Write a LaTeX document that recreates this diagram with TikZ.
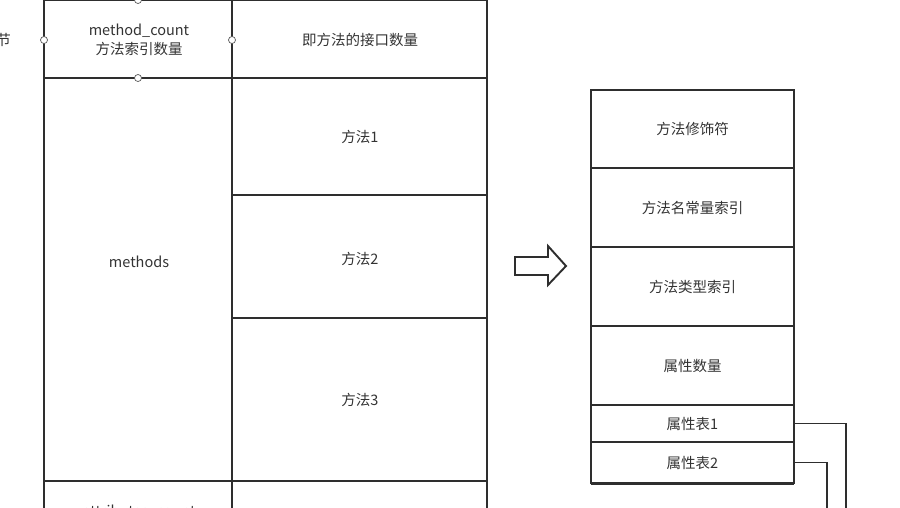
\documentclass[tikz,border=0pt]{standalone}
\usepackage{fontspec}
\setmainfont{Noto Sans CJK SC}
\definecolor{ln}{HTML}{2E2E2E}
\definecolor{tx}{HTML}{333333}
\tikzset{
  cell/.style={draw=ln, line width=1.9pt, rectangle, inner sep=0pt, outer sep=0pt, anchor=center},
  lbl/.style={text=tx, font=\fontsize{14.5}{19}\selectfont, align=center, inner sep=0pt},
  handle/.style={circle, draw=ln!80, fill=white, line width=0.7pt, minimum size=7pt, inner sep=0pt},
  conn/.style={draw=ln, line width=1.9pt},
  bigarrow/.style={draw=ln, line width=1.9pt, fill=white, line join=miter}
}
\begin{document}
\begin{tikzpicture}[x=1pt,y=-1pt]
\useasboundingbox (0,0) rectangle (900,507);
\clip (0,0) rectangle (900,507);
% partial text at left edge
\node[lbl, anchor=east] (cut) at (11,40) {节};
% left table
\node[cell, minimum width=188pt, minimum height=78pt] (mc) at (138,39) {};
\node[lbl] (mctext) at (139,40) {method\_count\\方法索引数量};
\node[cell, minimum width=255pt, minimum height=78pt] (mcd) at (359.5,39) {};
\node[lbl] (mcdtext) at (360,40) {即方法的接口数量};
\node[cell, minimum width=188pt, minimum height=403pt] (meth) at (138,279.5) {};
\node[lbl] (methtext) at (139,262) {methods};
\node[cell, minimum width=255pt, minimum height=117pt] (m1) at (359.5,136.5) {};
\node[lbl] (m1text) at (360,137) {方法1};
\node[cell, minimum width=255pt, minimum height=123pt] (m2) at (359.5,256.5) {};
\node[lbl] (m2text) at (360,259) {方法2};
\node[cell, minimum width=255pt, minimum height=163pt] (m3) at (359.5,399.5) {};
\node[lbl] (m3text) at (360,400) {方法3};
\node[cell, minimum width=188pt, minimum height=80pt] (ac) at (138,521) {};
\node[lbl] (actext) at (139,512) {attributes\_count};
\node[cell, minimum width=255pt, minimum height=80pt] (acd) at (359.5,521) {};
% selection handles
\node[handle] (h1) at (138,0) {};
\node[handle] (h2) at (44,40) {};
\node[handle] (h3) at (232,40) {};
\node[handle] (h4) at (138,78) {};
% block arrow
\draw[bigarrow] (515,257) -- (548,257) -- (548,246) -- (566,266) -- (548,285) -- (548,275) -- (515,275) -- cycle;
% right table
\node[cell, minimum width=203pt, minimum height=78pt] (r1) at (692.5,129) {};
\node[lbl] at (r1.center) {方法修饰符};
\node[cell, minimum width=203pt, minimum height=79pt] (r2) at (692.5,207.5) {};
\node[lbl] at (r2.center) {方法名常量索引};
\node[cell, minimum width=203pt, minimum height=79pt] (r3) at (692.5,286.5) {};
\node[lbl] at (r3.center) {方法类型索引};
\node[cell, minimum width=203pt, minimum height=79pt] (r4) at (692.5,365.5) {};
\node[lbl] at (r4.center) {属性数量};
\node[cell, minimum width=203pt, minimum height=37pt] (a1) at (692.5,423.5) {};
\node[lbl] at (a1.center) {属性表1};
\node[cell, minimum width=203pt, minimum height=41pt] (a2) at (692.5,462.5) {};
\node[lbl] at (a2.center) {属性表2};
\draw[ln, line width=3pt] (a2.south west) -- (a2.south east);
% connectors
\coordinate (e1) at (846,530);
\coordinate (e2) at (827,530);
\draw[conn] (a1.east) -| (e1);
\draw[conn] (a2.east) -| (e2);
\end{tikzpicture}
\end{document}
